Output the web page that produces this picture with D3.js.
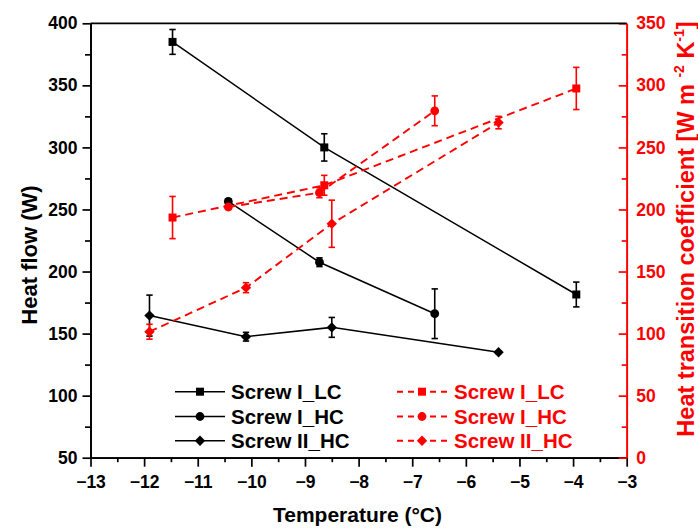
<!DOCTYPE html>
<html>
<head>
<meta charset="utf-8">
<script src="https://cdn.jsdelivr.net/npm/d3@7"></script>
<style>
    body { margin: 0; background: #fff; }
    text { font-family: "Liberation Sans", Arial, sans-serif; font-weight: bold; }
</style>
</head>
<body>
<div id="chart"></div>
<script>
// series names (legend)
const seriesNames = ["Screw I_LC", "Screw I_HC", "Screw II_HC"];

// temperature (°C) of every measurement
const tempLC = [-11.47, -8.64, -3.94];
const tempHC1 = [-10.43, -8.73, -6.58];
const tempHC2 = [-11.9, -10.1, -8.5, -5.39];

// heat flow (W), left axis, with error
const flowLC = [385, 300, 181.5];
const flowLCErr = [10, 11, 10];
const flowHC1 = [256.5, 207.5, 166];
const flowHC1Err = [2, 3.5, 20];
const flowHC2 = [164.5, 147.5, 155, 135];
const flowHC2Err = [16.5, 3.5, 8, 1];

// heat transition coefficient (W m-2 K-1), right axis, with error
const coefLC = [193.5, 219.5, 297.5];
const coefLCErr = [17, 8, 17];
const coefHC1 = [202, 213.5, 279.5];
const coefHC1Err = [2, 4, 12];
const coefHC2 = [101.5, 137, 188.5, 270];
const coefHC2Err = [6, 4, 19, 5];

// axis ticks
const xTicks = [-13, -12, -11, -10, -9, -8, -7, -6, -5, -4, -3];
const leftTicks = [50, 100, 150, 200, 250, 300, 350, 400];
const rightTicks = [0, 50, 100, 150, 200, 250, 300, 350];

const width = 698;
const height = 530;
const plotLeft = 90.5, plotRight = 626.7, plotTop = 23.3, plotBottom = 457.7;
const red = "#ff0000";

const svg = d3.select("#chart")
    .append("svg")
    .attr("width", width)
    .attr("height", height);

const x = d3.scaleLinear().domain([-13, -3]).range([plotLeft, plotRight]);
const yL = d3.scaleLinear().domain([50, 400]).range([plotBottom, plotTop]);
const yR = d3.scaleLinear().domain([0, 350]).range([plotBottom, plotTop]);

const mids = a => a.slice(1).map((v, i) => (v + a[i]) / 2);

// marker shapes
function marker(g, shape, cx, cy, color) {
    if (shape === "square") {
        g.append("rect").attr("x", cx - 4).attr("y", cy - 4)
            .attr("width", 8).attr("height", 8).attr("fill", color);
    } else if (shape === "circle") {
        g.append("circle").attr("cx", cx).attr("cy", cy).attr("r", 4.4).attr("fill", color);
    } else {
        const r = 5.2;
        g.append("path")
            .attr("d", `M${cx},${cy - r}L${cx + r},${cy}L${cx},${cy + r}L${cx - r},${cy}Z`)
            .attr("fill", color);
    }
}

// axes
function styleAxis(g, color) {
    g.selectAll("path, line").attr("stroke", color).attr("stroke-width", 1.7);
    g.selectAll("text").attr("fill", color).attr("font-size", "17.5px")
        .attr("font-family", "'Liberation Sans', Arial, sans-serif").attr("font-weight", "bold");
}

const gx = svg.append("g").attr("transform", `translate(0,${plotBottom})`)
    .call(d3.axisBottom(x).tickValues(xTicks).tickSize(9).tickPadding(9).tickSizeOuter(0));
styleAxis(gx, "#000");
const gxm = svg.append("g").attr("transform", `translate(0,${plotBottom})`)
    .call(d3.axisBottom(x).tickValues(mids(xTicks)).tickSize(4.5).tickFormat("").tickSizeOuter(0));
styleAxis(gxm, "#000");

const gl = svg.append("g").attr("transform", `translate(${plotLeft},0)`)
    .call(d3.axisLeft(yL).tickValues(leftTicks).tickSize(8).tickPadding(5).tickSizeOuter(0));
styleAxis(gl, "#000");
const glm = svg.append("g").attr("transform", `translate(${plotLeft},0)`)
    .call(d3.axisLeft(yL).tickValues(mids(leftTicks)).tickSize(5.5).tickFormat("").tickSizeOuter(0));
styleAxis(glm, "#000");

const gr = svg.append("g").attr("transform", `translate(${plotRight},0)`)
    .call(d3.axisRight(yR).tickValues(rightTicks).tickSize(-8).tickPadding(9.5).tickSizeOuter(0));
styleAxis(gr, red);
const grm = svg.append("g").attr("transform", `translate(${plotRight},0)`)
    .call(d3.axisRight(yR).tickValues(mids(rightTicks)).tickSize(-5).tickFormat("").tickSizeOuter(0));
styleAxis(grm, red);

// top frame line
svg.append("line")
    .attr("x1", plotLeft).attr("x2", plotRight).attr("y1", plotTop).attr("y2", plotTop)
    .attr("stroke", "#000").attr("stroke-width", 1.7);

// axis titles
svg.append("text")
    .attr("transform", `translate(37,255) rotate(-90)`)
    .attr("text-anchor", "middle")
    .attr("font-size", "22px")
    .attr("fill", "#000")
    .text("Heat flow (W)");

const rt = svg.append("text")
    .attr("transform", `translate(694,229) rotate(-90)`)
    .attr("text-anchor", "middle")
    .attr("font-size", "23.5px")
    .attr("fill", red);
rt.append("tspan").text("Heat transition coefficient [W m ");
rt.append("tspan").attr("font-size", "14px").attr("dy", "-10").text("-2");
rt.append("tspan").attr("dy", "10").text(" K");
rt.append("tspan").attr("font-size", "14px").attr("dy", "-10").text("-1");
rt.append("tspan").attr("dy", "10").text("]");

svg.append("text")
    .attr("x", 357.5).attr("y", 522)
    .attr("text-anchor", "middle")
    .attr("font-size", "21px")
    .attr("fill", "#000")
    .text("Temperature (°C)");

// series
const shapes = ["square", "circle", "diamond"];
const temps = [tempLC, tempHC1, tempHC2];
const flows = [[flowLC, flowLCErr], [flowHC1, flowHC1Err], [flowHC2, flowHC2Err]];
const coefs = [[coefLC, coefLCErr], [coefHC1, coefHC1Err], [coefHC2, coefHC2Err]];

function drawSeries(ts, vals, errs, y, color, dashed, shape) {
    const pts = ts.map((t, i) => ({ t, v: vals[i], e: errs[i] }));
    const g = svg.append("g");
    g.append("path")
        .datum(pts)
        .attr("d", d3.line().x(d => x(d.t)).y(d => y(d.v)))
        .attr("fill", "none")
        .attr("stroke", color)
        .attr("stroke-width", dashed ? 1.9 : 1.5)
        .attr("stroke-dasharray", dashed ? "8,5" : null);
    pts.forEach(d => {
        const cx = x(d.t);
        const y1 = y(d.v + d.e), y2 = y(d.v - d.e);
        g.append("line").attr("x1", cx).attr("x2", cx).attr("y1", y1).attr("y2", y2)
            .attr("stroke", color).attr("stroke-width", 1.6);
        [y1, y2].forEach(yy => g.append("line")
            .attr("x1", cx - 3.2).attr("x2", cx + 3.2).attr("y1", yy).attr("y2", yy)
            .attr("stroke", color).attr("stroke-width", 1.6));
        marker(g, shape, cx, y(d.v), color);
    });
}

temps.forEach((ts, i) => drawSeries(ts, flows[i][0], flows[i][1], yL, "#000", false, shapes[i]));
temps.forEach((ts, i) => drawSeries(ts, coefs[i][0], coefs[i][1], yR, red, true, shapes[i]));

// legend
const legendY = [391.7, 416.5, 440.7];
seriesNames.forEach((name, i) => {
    const g = svg.append("g");
    g.append("line").attr("x1", 175).attr("x2", 225).attr("y1", legendY[i]).attr("y2", legendY[i])
        .attr("stroke", "#000").attr("stroke-width", 1.5);
    marker(g, shapes[i], 200, legendY[i], "#000");
    g.append("text").attr("x", 231).attr("y", legendY[i]).attr("dy", "0.36em")
        .attr("font-size", "20.5px").attr("fill", "#000").text(name);

    const h = svg.append("g");
    h.append("line").attr("x1", 397).attr("x2", 447).attr("y1", legendY[i]).attr("y2", legendY[i])
        .attr("stroke", red).attr("stroke-width", 1.9).attr("stroke-dasharray", "6,5");
    marker(h, shapes[i], 422, legendY[i], red);
    h.append("text").attr("x", 454).attr("y", legendY[i]).attr("dy", "0.36em")
        .attr("font-size", "20.5px").attr("fill", red).text(name);
});
</script>
</body>
</html>
